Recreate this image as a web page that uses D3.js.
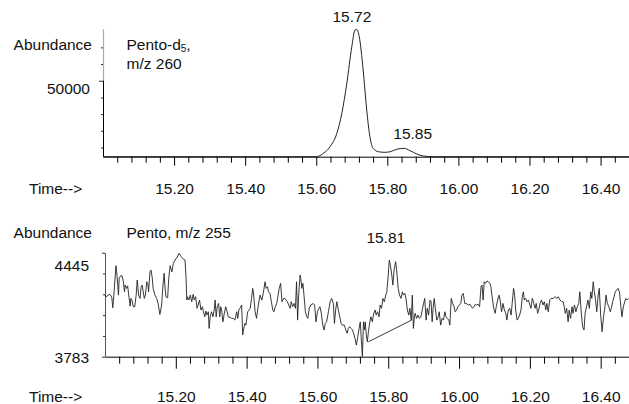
<!DOCTYPE html>
<html>
<head>
<meta charset="utf-8">
<script src="https://cdn.jsdelivr.net/npm/d3@7"></script>
<style>
  html, body { margin: 0; padding: 0; background: #fff; }
  svg { display: block; }
  text { font-family: "Liberation Sans", Arial, sans-serif; fill: #111; }
</style>
</head>
<body>
<svg id="chart" width="629" height="404"></svg>
<script>
// ---------------- DATA ----------------
const timeDomain = [15.0, 16.48];
const majorTimeTicks = [15.20, 15.40, 15.60, 15.80, 16.00, 16.20, 16.40];

// Top: Pento-d5, m/z 260 (extracted ion chromatogram)
const d5Times = [15.000, 15.601, 15.620, 15.639, 15.658, 15.672, 15.686, 15.700, 15.709, 15.714,
  15.721, 15.732, 15.742, 15.751, 15.760, 15.775, 15.793, 15.808, 15.826, 15.847,
  15.864, 15.883, 15.901, 15.929, 16.480];
const d5Abund = [4500, 4500, 6500, 10480, 18500, 30480, 48440, 70360, 80360, 80700,
  76350, 56400, 32450, 16470, 9520, 7480, 7130, 7480, 8920, 9520,
  8080, 6110, 4910, 4500, 4500];
const d5Domain = [4500, 80800];
const d5MinorTicks = [10000, 20000, 30000, 40000, 60000, 70000];
const d5LabelTicks = [50000];
const d5PeakLabels = [{ t: 15.72, v: 80700, text: "15.72" }, { t: 15.85, v: 9520, text: "15.85" }];

// Bottom: Pento, m/z 255
const pTimes = [15.000,15.003,15.009,15.014,15.019,15.022,15.025,15.031,15.033,15.036,15.038,15.040,15.044,15.048,15.052,15.055,15.057,15.061,15.064,15.067,
15.071,15.073,15.076,15.080,15.084,15.088,15.091,15.095,15.099,15.102,15.105,15.108,15.111,15.114,15.118,15.121,15.123,15.127,15.130,15.133,
15.136,15.141,15.146,15.150,15.155,15.160,15.163,15.167,15.169,15.172,15.177,15.180,15.184,15.186,15.189,15.193,15.198,15.204,15.209,15.215,
15.221,15.226,15.229,15.231,15.233,15.237,15.241,15.245,15.249,15.252,15.256,15.260,15.263,15.267,15.271,15.275,15.278,15.282,15.285,15.288,
15.292,15.294,15.297,15.301,15.305,15.309,15.311,15.314,15.317,15.321,15.324,15.327,15.330,15.333,15.337,15.341,15.345,15.348,15.353,15.358,
15.362,15.367,15.372,15.375,15.378,15.382,15.386,15.389,15.391,15.395,15.398,15.403,15.407,15.410,15.414,15.417,15.419,15.424,15.428,15.433,
15.438,15.443,15.447,15.452,15.455,15.459,15.462,15.466,15.470,15.474,15.477,15.481,15.485,15.489,15.492,15.496,15.500,15.504,15.508,15.511,
15.515,15.519,15.523,15.526,15.530,15.534,15.538,15.541,15.544,15.547,15.551,15.553,15.556,15.559,15.562,15.566,15.570,15.573,15.577,15.581,
15.585,15.588,15.592,15.596,15.600,15.604,15.607,15.611,15.615,15.619,15.622,15.626,15.631,15.636,15.640,15.645,15.648,15.652,15.655,15.659,
15.663,15.667,15.670,15.676,15.680,15.684,15.687,15.691,15.695,15.699,15.702,15.706,15.710,15.714,15.717,15.721,15.724,15.727,15.730,15.733,
15.735,15.738,15.741,15.744,15.748,15.751,15.755,15.759,15.763,15.766,15.770,15.774,15.777,15.781,15.785,15.789,15.793,15.796,15.800,15.803,
15.806,15.810,15.813,15.817,15.821,15.825,15.828,15.832,15.836,15.840,15.843,15.847,15.850,15.854,15.858,15.861,15.865,15.868,15.871,15.874,
15.876,15.880,15.884,15.888,15.892,15.895,15.899,15.903,15.907,15.910,15.914,15.918,15.921,15.924,15.927,15.930,15.933,15.937,15.941,15.944,
15.948,15.952,15.956,15.960,15.963,15.967,15.971,15.974,15.978,15.982,15.986,15.989,15.993,15.997,16.001,16.005,16.008,16.012,16.016,16.020,
16.023,16.027,16.031,16.035,16.038,16.042,16.046,16.050,16.054,16.058,16.062,16.065,16.068,16.071,16.075,16.079,16.083,16.087,16.090,16.094,
16.098,16.102,16.105,16.109,16.113,16.116,16.120,16.124,16.128,16.132,16.135,16.139,16.143,16.147,16.150,16.154,16.157,16.160,16.164,16.167,
16.171,16.175,16.179,16.182,16.184,16.188,16.192,16.196,16.200,16.203,16.207,16.211,16.215,16.218,16.222,16.226,16.229,16.233,16.237,16.241,
16.245,16.248,16.252,16.256,16.260,16.266,16.271,16.276,16.280,16.285,16.290,16.294,16.297,16.300,16.304,16.308,16.311,16.315,16.319,16.322,
16.326,16.330,16.334,16.338,16.341,16.345,16.349,16.353,16.356,16.360,16.364,16.368,16.372,16.375,16.379,16.382,16.385,16.389,16.393,16.396,
16.400,16.404,16.408,16.412,16.415,16.419,16.423,16.427,16.430,16.434,16.438,16.441,16.445,16.449,16.453,16.457,16.460,16.464,16.468,16.471,
16.475,16.479];
const pAbund = [4178,4164,4175,4180,4164,4094,4175,4362,4323,4239,4175,4281,4298,4298,4260,4196,4239,4218,4234,4175,
4105,4154,4144,4101,4101,4175,4271,4175,4154,4228,4239,4196,4154,4175,4260,4250,4196,4323,4334,4292,
4218,4175,4154,4122,4052,4112,4218,4314,4239,4164,4158,4281,4362,4345,4323,4377,4398,4417,4441,4420,
4405,4398,4283,4144,4165,4144,4175,4133,4180,4144,4165,4091,4112,4144,4080,4101,4069,4037,4074,4048,
4069,3963,4037,4069,4037,4091,4144,4037,4101,4122,4037,4101,4069,4005,4059,4101,4069,4037,4034,4027,
4027,4016,4069,4027,4080,4094,4112,3921,3953,3995,3984,4069,4080,4091,4154,4218,4196,4069,4027,4112,
4175,4144,4186,4260,4218,4228,4196,4186,4133,4080,4069,4101,4122,4175,4218,4250,4133,4154,4154,4144,
4133,4112,4091,4133,4101,4122,4091,4260,4016,4175,4303,4282,4218,4250,4175,4069,4037,4027,4091,4112,
4117,4122,4112,4005,4069,4091,4101,4059,3984,3953,3995,4005,4069,4133,4154,4122,3995,4091,4133,4080,
4037,3995,3984,3984,3953,3932,3963,3974,3963,3953,3932,3900,3857,3910,3953,4005,3889,3784,4005,3953,
4005,3921,3878,3942,4005,4037,4005,4059,4080,4048,4069,4037,4112,4091,4154,4133,4175,4196,4303,4398,
4366,4303,4239,4345,4388,4303,4218,4175,4154,4196,4175,4186,4154,4080,4048,4091,4016,4175,3963,4037,
4059,4027,4048,4027,4037,4069,4112,4154,4016,4091,4048,4144,4133,4005,4101,4154,4091,4016,4037,4069,
3984,4027,4016,4069,4037,4027,4016,3984,4154,4122,4101,4069,4080,4101,4112,4122,4175,4186,4122,4122,
4117,4112,4117,4101,4091,4101,4117,4112,4117,4101,4228,4239,4144,4260,4250,4265,4260,4250,4228,4154,
4091,4059,4101,4144,4175,4144,4069,4122,4080,4059,4016,4080,4091,4048,4122,4218,4175,4080,4016,4027,
4048,4080,4175,4196,4144,4154,4133,4144,4112,4091,4154,4122,4091,4122,4059,4091,4122,4144,4112,4133,
4080,4122,4069,4144,4154,4154,4165,4154,4165,4144,4133,4133,4101,4059,4091,4005,4080,4027,4101,4059,
4112,4069,4101,4122,4196,4069,3974,3953,4059,4101,4144,4091,4196,4154,4260,4196,4154,4069,4175,4218,
4048,3942,4037,4101,4175,4122,4101,4069,4091,4133,4165,4196,4207,4218,4196,4101,4037,4101,4133,4154,
4144,4154];
const pBaselineTimes = [15.744, 15.866];
const pBaselineAbund = [3878, 4016];
const pDomain = [3783, 4445];
const pLabelTicks = [3783, 4445];
const pMinorTicks = [3915, 4048, 4180, 4313];
const pPeakLabels = [{ t: 15.81, v: 4398, text: "15.81" }];

// ---------------- DRAW ----------------
const svg = d3.select("#chart");
const FS = 15.5;

function minorTimes() {
  return d3.range(1504, 1648, 4).filter(v => v % 20 !== 0).map(v => v / 100);
}

function panel(opts) {
  const g = svg.append("g");
  const x = d3.scaleLinear().domain(timeDomain).range([opts.left, 629]);
  const y = d3.scaleLinear().domain(opts.yDomain).range([opts.bottom, opts.top]);

  // x axis minor ticks
  g.append("g").attr("transform", `translate(0,${opts.bottom})`)
    .call(d3.axisBottom(x).tickValues(minorTimes()).tickFormat("").tickSize(opts.minorTick).tickSizeOuter(0))
    .call(a => a.select(".domain").attr("stroke", "#000"))
    .call(a => a.selectAll(".tick line").attr("stroke", "#000"));
  // x axis major ticks + labels
  g.append("g").attr("transform", `translate(0,${opts.bottom})`)
    .call(d3.axisBottom(x).tickValues(majorTimeTicks).tickFormat(d3.format(".2f"))
      .tickSize(opts.majorTick).tickPadding(opts.labelPad).tickSizeOuter(0))
    .call(a => a.select(".domain").remove())
    .call(a => a.selectAll(".tick line").attr("stroke", "#000"))
    .call(a => a.selectAll("text").attr("font-size", FS).attr("font-family", "Liberation Sans, Arial, sans-serif").attr("fill", "#111"));

  // y axis
  g.append("g").attr("transform", `translate(${opts.left},0)`)
    .call(d3.axisLeft(y).tickValues(opts.minorTicks).tickFormat("").tickSize(2).tickSizeOuter(0))
    .call(a => a.select(".domain").attr("stroke", opts.yAxisColor))
    .call(a => a.selectAll(".tick line").attr("stroke", "#333"));
  const yl = g.append("g").attr("transform", `translate(${opts.left},0)`)
    .call(d3.axisLeft(y).tickValues(opts.labelTicks).tickFormat(d3.format("d")).tickSize(opts.yMajorTick).tickPadding(opts.yPad).tickSizeOuter(0))
    .call(a => a.select(".domain").remove())
    .call(a => a.selectAll(".tick line").attr("stroke", "#333"))
    .call(a => a.selectAll("text").attr("font-size", FS).attr("font-family", "Liberation Sans, Arial, sans-serif").attr("fill", "#111"));
  yl.selectAll(".tick text").attr("dy", (d, i) => opts.labelDy[i]);

  if (opts.grayTop) {
    g.append("line").attr("x1", opts.left + 0.5).attr("x2", opts.left + 0.5)
      .attr("y1", y(opts.yDomain[1])).attr("y2", y(opts.grayTop))
      .attr("stroke", "#aaa").attr("stroke-width", 1.2);
  }

  // Time label
  g.append("text").attr("x", 29).attr("y", opts.timeY).attr("dominant-baseline", "central")
    .attr("font-size", FS).text("Time-->");
  // Abundance label
  g.append("text").attr("x", 92).attr("y", opts.abY).attr("dominant-baseline", "central")
    .attr("text-anchor", "end").attr("font-size", FS).text("Abundance");

  return { g, x, y };
}

// --- Top panel
const topP = panel({
  left: 103, top: 29.3, bottom: 156.7, yDomain: d5Domain,
  minorTicks: d5MinorTicks, labelTicks: d5LabelTicks, labelDy: ["0.85em"],
  minorTick: 6, majorTick: 9, labelPad: 17, yMajorTick: 4, yPad: 9,
  yAxisColor: "#000", grayTop: 50000, timeY: 188, abY: 44
});
topP.g.append("path")
  .datum(d3.zip(d5Times, d5Abund))
  .attr("fill", "none").attr("stroke", "#222").attr("stroke-width", 1)
  .attr("d", d3.line().x(d => topP.x(d[0])).y(d => topP.y(d[1])).curve(d3.curveMonotoneX));
const t1 = topP.g.append("text").attr("x", 126.5).attr("y", 44).attr("dominant-baseline", "central").attr("font-size", FS);
t1.append("tspan").text("Pento-d");
t1.append("tspan").attr("font-size", 10).attr("dy", 4).text("5");
t1.append("tspan").attr("dy", -4).text(",");
topP.g.append("text").attr("x", 126.5).attr("y", 63.5).attr("dominant-baseline", "central").attr("font-size", FS).text("m/z 260");
const topOffsets = [[-7, -12.5], [7.6, -15]];
topP.g.selectAll(".pk").data(d5PeakLabels).join("text")
  .attr("x", (d, i) => topP.x(d.t) + topOffsets[i][0])
  .attr("y", (d, i) => topP.y(d.v) + topOffsets[i][1])
  .attr("text-anchor", "middle").attr("dominant-baseline", "central").attr("font-size", FS)
  .text(d => d.text);

// --- Bottom panel
const botP = panel({
  left: 105, top: 252.7, bottom: 356.7, yDomain: pDomain,
  minorTicks: pMinorTicks, labelTicks: pLabelTicks, labelDy: ["0.4em", "1.15em"],
  minorTick: 7, majorTick: 12, labelPad: 22, yMajorTick: 3, yPad: 13,
  yAxisColor: "#555", grayTop: null, timeY: 396.5, abY: 232.3
});
botP.g.append("path")
  .datum(d3.zip(pTimes, pAbund))
  .attr("fill", "none").attr("stroke", "#222").attr("stroke-width", 0.9)
  .attr("d", d3.line().x(d => botP.x(d[0])).y(d => botP.y(d[1])));
botP.g.append("path")
  .datum(d3.zip(pBaselineTimes, pBaselineAbund))
  .attr("fill", "none").attr("stroke", "#222").attr("stroke-width", 0.9)
  .attr("d", d3.line().x(d => botP.x(d[0])).y(d => botP.y(d[1])));
botP.g.append("text").attr("x", 126.5).attr("y", 232.3).attr("dominant-baseline", "central").attr("font-size", FS).text("Pento, m/z 255");
botP.g.selectAll(".pk").data(pPeakLabels).join("text")
  .attr("x", d => botP.x(d.t) - 6)
  .attr("y", d => botP.y(d.v) - 23)
  .attr("text-anchor", "middle").attr("dominant-baseline", "central").attr("font-size", FS)
  .text(d => d.text);
</script>
</body>
</html>
